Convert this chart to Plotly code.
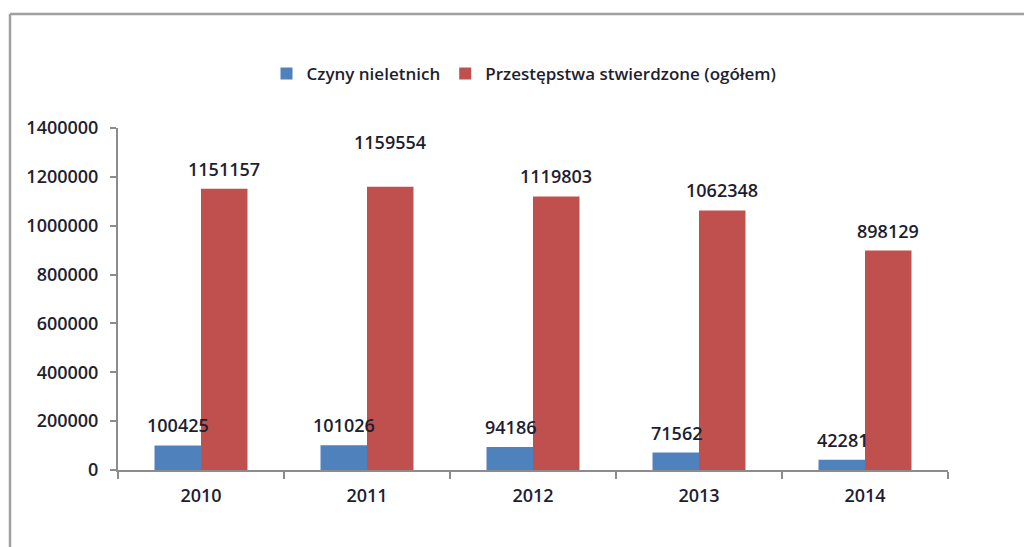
import plotly.graph_objects as go

years = ["2010", "2011", "2012", "2013", "2014"]
juvenile = [100425, 101026, 94186, 71562, 42281]
total = [1151157, 1159554, 1119803, 1062348, 898129]
series_names = ["Czyny nieletnich", "Przestępstwa stwierdzone (ogółem)"]
y_ticks = [0, 200000, 400000, 600000, 800000, 1000000, 1200000, 1400000]
red_label_shift = [20, 45, 20, 20, 20]
blue_label_shift = [20, 20, 20, 20, 20]

FONT = "Open Sans"
TXT = "#1e1e30"
W = 600
FS = 18

fig = go.Figure()
fig.add_trace(go.Bar(x=years, y=juvenile, name=series_names[0], marker_color="#4f81bd",
                     marker_line_width=0))
fig.add_trace(go.Bar(x=years, y=total, name=series_names[1], marker_color="#c0504d",
                     marker_line_width=0))

annotations = []
for i, yr in enumerate(years):
    annotations.append(dict(x=i, y=juvenile[i], text=str(juvenile[i]), showarrow=False,
                            xshift=-23, yshift=blue_label_shift[i],
                            font=dict(family=FONT, size=FS, color=TXT, weight=W)))
    annotations.append(dict(x=i, y=total[i], text=str(total[i]), showarrow=False,
                            xshift=23, yshift=red_label_shift[i],
                            font=dict(family=FONT, size=FS, color=TXT, weight=W)))

L, R, T, B = 118, 948, 128, 470
def px(x):
    return (x - L) / (R - L)
def py(y):
    return (B - y) / (B - T)

shapes = [
    dict(type="line", xref="paper", yref="paper", x0=px(10), x1=px(1030), y0=py(14), y1=py(14),
         line=dict(color="#a0a0a0", width=2.5)),
    dict(type="line", xref="paper", yref="paper", x0=px(10), x1=px(10), y0=py(14), y1=py(560),
         line=dict(color="#a0a0a0", width=2.5)),
]

fig.update_layout(
    width=1024, height=547,
    margin=dict(l=L, r=1024 - R, t=T, b=547 - B),
    paper_bgcolor="white", plot_bgcolor="white",
    barmode="group", bargap=0.44, bargroupgap=0,
    font=dict(family=FONT, size=FS, color=TXT, weight=W),
    showlegend=True,
    legend=dict(orientation="h", xref="container", yref="container",
                x=524 / 1024, xanchor="center", y=1 - 74 / 547, yanchor="middle",
                font=dict(family=FONT, size=17, color=TXT, weight=W),
                itemsizing="constant", traceorder="normal", itemwidth=30),
    annotations=annotations,
    shapes=shapes,
    xaxis=dict(type="category", range=[-0.5, len(years) - 0.5], showline=True,
               linecolor="#8c8c8c", linewidth=2, ticks="outside",
               tickson="boundaries", ticklen=7, tickcolor="#8c8c8c", tickwidth=2,
               ticklabelstandoff=8,
               tickfont=dict(family=FONT, size=FS, color=TXT, weight=W), showgrid=False,
               fixedrange=True),
    yaxis=dict(range=[0, 1400000], tickvals=y_ticks, ticktext=[str(v) for v in y_ticks],
               showline=True, linecolor="#8c8c8c", linewidth=2, ticks="outside",
               ticklen=6, tickcolor="#8c8c8c", tickwidth=2, showgrid=False, zeroline=False,
               ticklabelstandoff=8,
               tickfont=dict(family=FONT, size=FS, color=TXT, weight=W), fixedrange=True),
)

fig.write_html("out.html", config={"displayModeBar": False},
               post_script="document.body.style.margin='0';document.body.style.overflow='hidden';")
